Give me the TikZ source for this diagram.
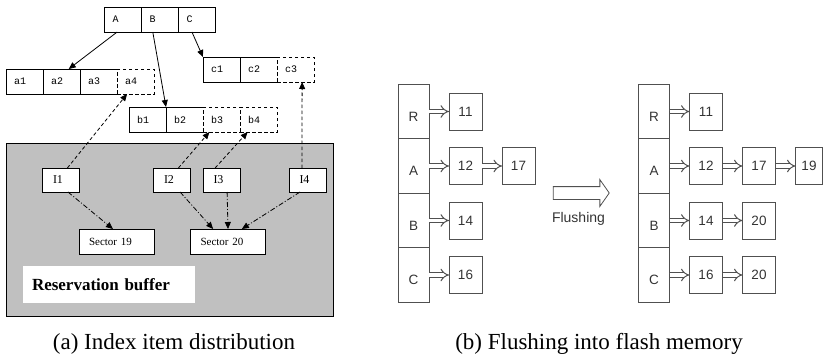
\documentclass[tikz,border=0pt]{standalone}
\usepackage{fontspec}
\setmainfont{Liberation Serif}
\setsansfont{Liberation Sans}
\setmonofont{Liberation Mono}
\usetikzlibrary{positioning,arrows.meta,shapes.arrows}
\definecolor{bufgray}{HTML}{C0C0C0}
\definecolor{lgray}{HTML}{505050}
\definecolor{tgray}{HTML}{333333}

\begin{document}
\begin{tikzpicture}[x=1pt,y=-1pt,line width=0.8pt,
	cell/.style={draw,outer sep=0pt,inner sep=0pt,minimum width=37pt,minimum height=25pt,text width=21pt,align=left,font=\ttfamily\fontsize{10}{12}\selectfont},
	dcell/.style={cell,preaction={draw=white,solid},dashed,dash pattern=on 3.5pt off 2.5pt},
	ibox/.style={draw,fill=white,outer sep=0pt,inner sep=0pt,minimum width=37pt,minimum height=24pt,text width=16pt,align=left,font=\fontsize{12}{14}\selectfont},
	sbox/.style={draw,fill=white,outer sep=0pt,inner sep=0pt,minimum width=75pt,minimum height=25pt,text width=55pt,align=left,font=\fontsize{11}{13}\selectfont},
	arr/.style={-{Triangle[length=7pt,width=6pt]}},
	darr/.style={arr,dash pattern=on 3.5pt off 2.5pt},
	ddarr/.style={arr,dash pattern=on 5pt off 2pt on 1pt off 2pt},
	bcol/.style={draw=lgray,outer sep=0pt,inner sep=0pt,minimum width=31pt,minimum height=54.5pt,text height=19pt,text depth=0pt,text=tgray,font=\sffamily\fontsize{13.5}{16}\selectfont},
	bbox/.style={draw=lgray,outer sep=0pt,inner sep=0pt,minimum width=33pt,minimum height=37pt,text=tgray,font=\sffamily\fontsize{13.5}{16}\selectfont},
	dbl/.style={draw=lgray,double=white,double distance=3.4pt,line width=1pt,-{Implies[length=5pt,width=12pt]}}]
	\useasboundingbox (0,0) rectangle (823,356);
	% (a) index item distribution
	\node[draw,fill=bufgray,anchor=north west,minimum width=327pt,minimum height=173pt] (buf) at (6,143) {};
	\node[fill=white,minimum width=172pt,minimum height=37pt,text width=154pt,inner xsep=9pt,align=left,font=\bfseries\fontsize{17}{20}\selectfont] (resv) at (109,284.5) {Reservation buffer};
	\node[cell] (A) at (123,19.5) {A};
	\node[cell,right=0pt of A] (B) {B};
	\node[cell,right=0pt of B] (C) {C};
	\node[cell] (a1) at (24.5,81.5) {a1};
	\node[cell,right=0pt of a1] (a2) {a2};
	\node[cell,right=0pt of a2] (a3) {a3};
	\node[dcell,right=0pt of a3] (a4) {a4};
	\node[cell] (c1) at (221.5,69.5) {c1};
	\node[cell,right=0pt of c1] (c2) {c2};
	\node[dcell,right=0pt of c2] (c3) {c3};
	\node[cell] (b1) at (147.5,119.5) {b1};
	\node[cell,right=0pt of b1] (b2) {b2};
	\node[dcell,right=0pt of b2] (b3) {b3};
	\node[dcell,right=0pt of b3] (b4) {b4};
	\node[ibox] (I1) at (61,180) {I1};
	\node[ibox] (I2) at (172,180) {I2};
	\node[ibox] (I3) at (221.5,180) {I3};
	\node[ibox] (I4) at (307.5,180) {I4};
	\node[sbox] (S19) at (116.5,241.5) {Sector 19};
	\node[sbox] (S20) at (228,241.5) {Sector 20};
	\draw[arr] (A.-115) -- (a2.60);
	\draw[arr] (B.-120) -- (b1.north east);
	\draw[arr] (C.-112) -- (c1.north west);
	\draw[darr] (I1.62) -- (a4.-124);
	\draw[darr] (I2.62) -- (b3.-134);
	\draw[darr] (I3.118) -- (b4.-131);
	\draw[darr] (I4.115) -- (c3.-62);
	\draw[ddarr] (I1.-60) -- (S19.106);
	\draw[ddarr] (I2.-56) -- (S20.140);
	\draw[ddarr] (I3.-65) -- (S20.north);
	\draw[ddarr] (I4.-122) -- (S20.42);
	\node[font=\fontsize{23}{26}\selectfont,anchor=base] (capa) at (174,349) {(a) Index item distribution};
	% (b) flushing, before
	\node[bcol] (lR) at (413.5,111.5) {R};
	\node[bcol,below=0pt of lR] (lA) {A};
	\node[bcol,below=0pt of lA] (lB) {B};
	\node[bcol,below=0pt of lB] (lC) {C};
	\node[bbox,right=20pt of lR] (l11) {11};
	\node[bbox,right=20pt of lA] (l12) {12};
	\node[bbox,right=20pt of l12] (l17) {17};
	\node[bbox,right=20pt of lB] (l14) {14};
	\node[bbox,right=20pt of lC] (l16) {16};
	\draw[dbl] (lR.east) -- (l11.west);
	\draw[dbl] (lA.east) -- (l12.west);
	\draw[dbl] (l12.east) -- (l17.west);
	\draw[dbl] (lB.east) -- (l14.west);
	\draw[dbl] (lC.east) -- (l16.west);
	\node[single arrow,draw=lgray,line width=0.8pt,inner xsep=0pt,inner ysep=6pt,minimum height=56pt,single arrow head extend=7pt,single arrow tip angle=110] (flush) at (579,193) {};
	\node[text=tgray,font=\sffamily\fontsize{14}{16}\selectfont] (flushtxt) at (578.5,219) {Flushing};
	% (b) flushing, after
	\node[bcol] (rR) at (654,111.5) {R};
	\node[bcol,below=0pt of rR] (rA) {A};
	\node[bcol,below=0pt of rA] (rB) {B};
	\node[bcol,below=0pt of rB] (rC) {C};
	\node[bbox,right=20pt of rR] (r11) {11};
	\node[bbox,right=20pt of rA] (r12) {12};
	\node[bbox,right=20pt of r12] (r17) {17};
	\node[bbox,right=20pt of r17,minimum width=27pt] (r19) {19};
	\node[bbox,right=20pt of rB] (r14) {14};
	\node[bbox,right=20pt of r14] (r20b) {20};
	\node[bbox,right=20pt of rC] (r16) {16};
	\node[bbox,right=20pt of r16] (r20c) {20};
	\draw[dbl] (rR.east) -- (r11.west);
	\draw[dbl] (rA.east) -- (r12.west);
	\draw[dbl] (r12.east) -- (r17.west);
	\draw[dbl] (r17.east) -- (r19.west);
	\draw[dbl] (rB.east) -- (r14.west);
	\draw[dbl] (r14.east) -- (r20b.west);
	\draw[dbl] (rC.east) -- (r16.west);
	\draw[dbl] (r16.east) -- (r20c.west);
	\node[font=\fontsize{23}{26}\selectfont,anchor=base] (capb) at (599,349) {(b) Flushing into flash memory};
\end{tikzpicture}
\end{document}
